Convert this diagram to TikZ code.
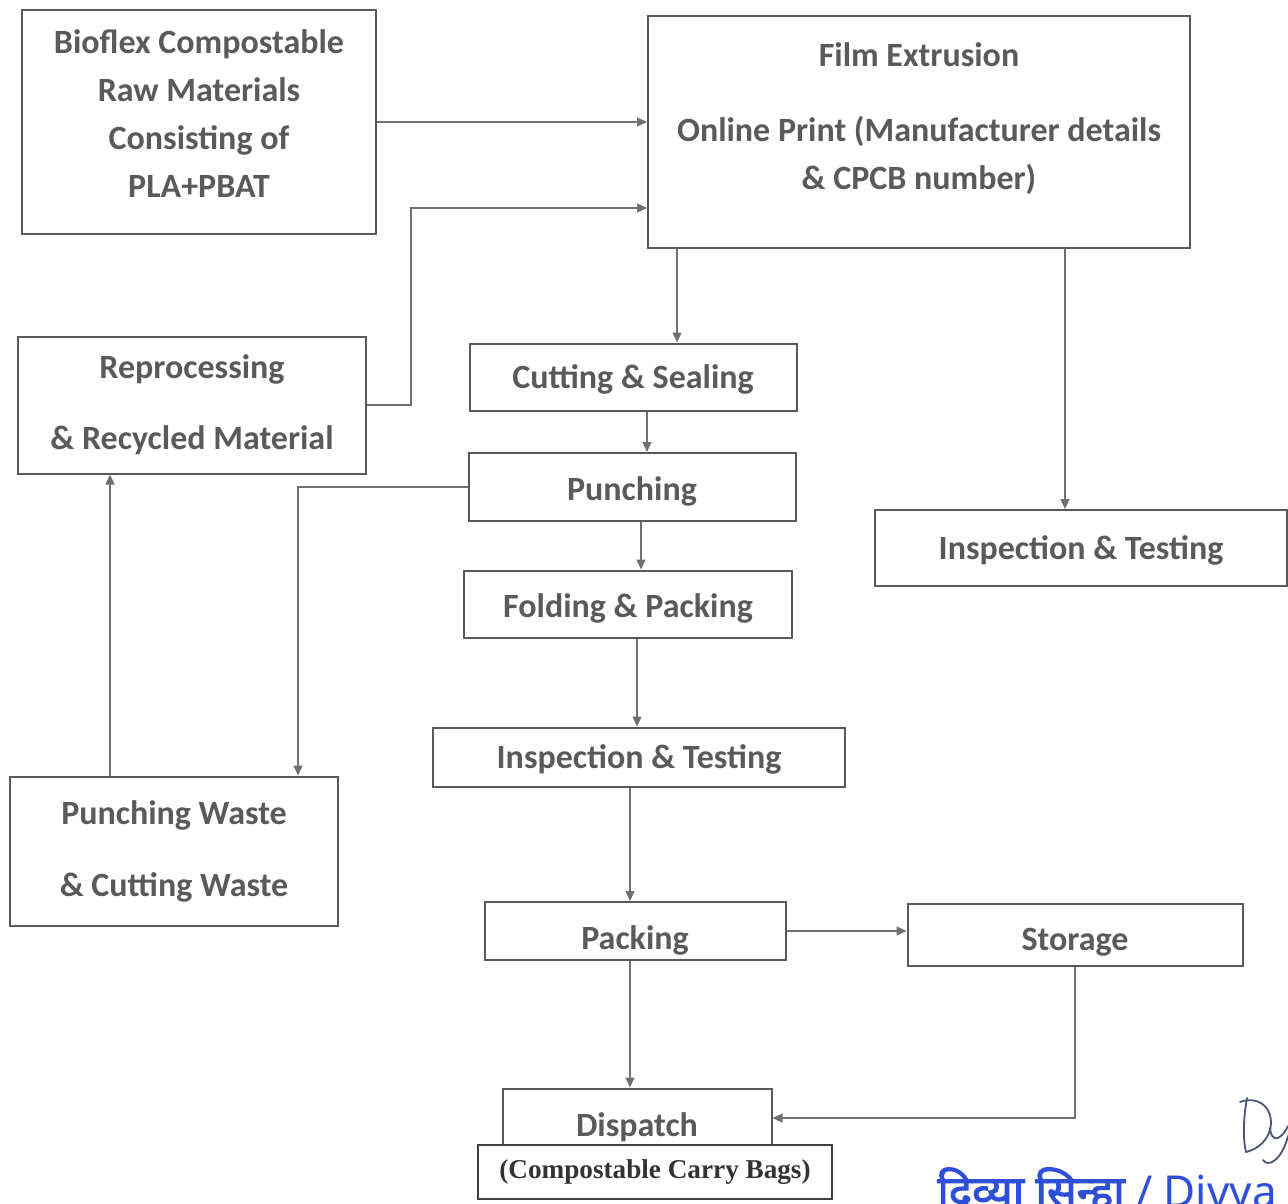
\documentclass[tikz,border=0pt]{standalone}
\usepackage{fontspec}
\setmainfont{Carlito}
\newfontfamily\bagsfont{Liberation Serif}
\newfontfamily\hindifont[Script=Devanagari,AutoFakeBold=2.5]{Noto Sans}
\usetikzlibrary{arrows.meta}
\definecolor{boxgray}{HTML}{595959}
\definecolor{textgray}{HTML}{5A5A5A}
\definecolor{linegray}{HTML}{707070}
\definecolor{stampblue}{HTML}{2F4FD8}
\definecolor{signink}{HTML}{4A5578}
\newcommand{\lowtext}[2]{\raisebox{-#1}[\height][\depth]{#2}}
\tikzset{
	box_base/.style = {
		rectangle,
		align=center,
		inner sep=0pt,
		draw=boxgray,
		line width=1pt,
		text=textgray,
		font=\fontsize{17}{24}\selectfont\bfseries
	},
	box_step/.style = {
		box_base,
		fill=white
	},
	box_note/.style = {
		box_base,
		fill=white,
		line width=0.8pt,
		draw=black!75,
		text=black!80,
		font=\bagsfont\fontsize{13.6}{16}\selectfont\bfseries
	},
	conn/.style = {
		line width=0.6pt,
		draw=linegray,
		-{Triangle[length=5pt,width=4.5pt]}
	},
	stamp_text/.style = {
		inner sep=0pt,
		text=stampblue,
		font=\hindifont\fontsize{22}{24}\selectfont
	},
	sign_ink/.style = {
		draw=signink,
		line width=0.9pt,
		line cap=round
	}
}
\begin{document}
\begin{tikzpicture}[x=0.5pt,y=-0.5pt]
\useasboundingbox (0,0) rectangle (1288,1203);
% boxes
\node [box_step, minimum width=177pt, minimum height=112pt] (raw) at (199,122)
	{Bioflex Compostable\\Raw Materials\\Consisting of\\PLA+PBAT\\[-16pt]\mbox{}};
\node [box_step, minimum width=271pt, minimum height=116pt] (film) at (919,132)
	{Film Extrusion\\[13.5pt]Online Print (Manufacturer details\\\& CPCB number)\\[-8.5pt]\mbox{}};
\node [box_step, minimum width=174pt, minimum height=68.5pt] (reproc) at (192,405)
	{Reprocessing\\[11.5pt]\& Recycled Material};
\node [box_step, minimum width=163.5pt, minimum height=33.5pt] (cut) at (633,377) {\lowtext{1pt}{Cutting \& Sealing}};
\node [box_step, minimum width=163.5pt, minimum height=34pt] (punch) at (632,487) {\lowtext{2pt}{Punching}};
\node [box_step, minimum width=164pt, minimum height=33.5pt] (fold) at (628,604) {\lowtext{2pt}{Folding \& Packing}};
\node [box_step, minimum width=206pt, minimum height=29.5pt] (insp_a) at (639,757) {\lowtext{1pt}{Inspection \& Testing}};
\node [box_step, minimum width=206pt, minimum height=38pt] (insp_b) at (1081,548) {\lowtext{1pt}{Inspection \& Testing}};
\node [box_step, minimum width=164pt, minimum height=74.5pt] (waste) at (174,851)
	{Punching Waste\\[12pt]\& Cutting Waste};
\node [box_step, minimum width=150.5pt, minimum height=29pt] (pack) at (635,931) {\lowtext{4.5pt}{Packing}};
\node [box_step, minimum width=167.5pt, minimum height=31pt] (store) at (1075,935) {\lowtext{3.5pt}{Storage}};
\node [box_step, minimum width=134.5pt, minimum height=29.5pt] (dispatch) at (637,1118) {\lowtext{4.5pt}{Dispatch}};
\node [box_note, minimum width=177pt, minimum height=27pt] (bags) at (655,1172) {(Compostable Carry Bags)};

% connectors
\draw [conn] (raw.east) -- (raw.east -| film.west);
\draw [conn] (reproc.east) -- ++(44,0) |- ([yshift=20.5pt]film.south west);
\draw [conn] ([xshift=15pt]film.south west) -- ([xshift=15pt]film.south west |- cut.north);
\draw [conn] ([xshift=-8pt]insp_b.north |- film.south) -- ([xshift=-8pt]insp_b.north);
\draw [conn] ([xshift=7pt]cut.south) -- ([xshift=7pt]cut.south |- punch.north);
\draw [conn] ([xshift=4.5pt]punch.south) -- ([xshift=4.5pt]punch.south |- fold.north);
\draw [conn] (punch.west) -| ([xshift=62pt]waste.north);
\draw [conn] ([xshift=-32pt]waste.north) -- ([xshift=-32pt]waste.north |- reproc.south);
\draw [conn] ([xshift=4.5pt]fold.south) -- ([xshift=4.5pt]fold.south |- insp_a.north);
\draw [conn] ([xshift=-4.5pt]insp_a.south) -- ([xshift=-4.5pt]insp_a.south |- pack.north);
\draw [conn] (pack.east) -- (pack.east -| store.west);
\draw [conn] ([xshift=-2.5pt]pack.south) -- ([xshift=-2.5pt]pack.south |- dispatch.north);
\draw [conn] (store.south) |- (dispatch.east);

% stamp and signature
\node [stamp_text, anchor=base west] (stamp) at (937,1207) {{\bfseries दिव्या सिन्हा} / Divya Sinha};
\draw [sign_ink] (1247,1098) .. controls (1243,1120) and (1243,1140) .. (1246,1152);
\draw [sign_ink] (1240,1102) .. controls (1276,1090) and (1284,1142) .. (1246,1152);
\draw [sign_ink] (1270,1128) .. controls (1271,1142) and (1280,1142) .. (1288,1126);
\draw [sign_ink] (1288,1136) .. controls (1282,1160) and (1268,1168) .. (1263,1160);
\end{tikzpicture}
\end{document}
